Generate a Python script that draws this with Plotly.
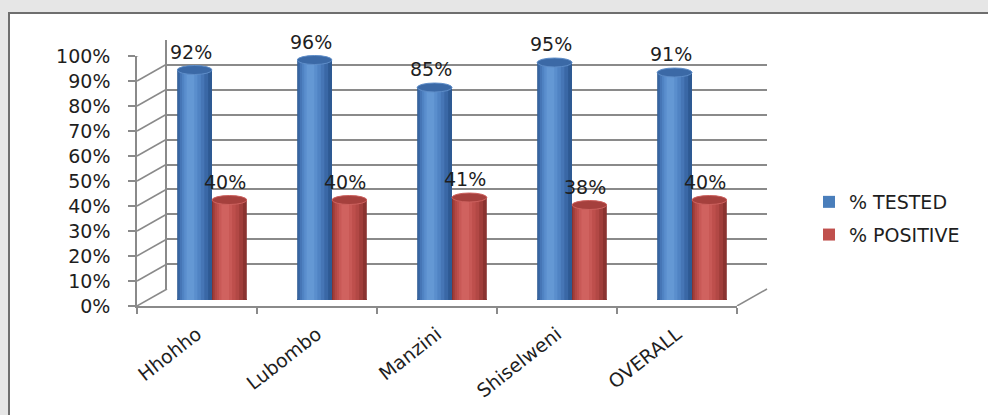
import plotly.graph_objects as go

# ---- data ----
categories = ["Hhohho", "Lubombo", "Manzini", "Shiselweni", "OVERALL"]
tested = [0.92, 0.96, 0.85, 0.95, 0.91]
positive = [0.40, 0.40, 0.41, 0.38, 0.40]
series_names = ["% TESTED", "% POSITIVE"]
y_ticks = [i / 10 for i in range(11)]

# ---- geometry (pixels) ----
W, H = 988, 415
FX0, FX1, FYB, FYT = 137, 737, 306, 56   # front plane
DX, DY = 30, 17                           # depth offset
MX, MY = 15, 6                            # bar plane offset
BW = 0.29                                 # bar width (category units)

def px_x(p):
    return p / W

def px_y(p):
    return 1 - p / H

FONT = "DejaVu Sans"
TXT = "#1e1e1e"
GRID = "#8a8a8a"

palettes = [
    dict(shades=["#2E5A93", "#3A68A6", "#4676B6", "#5083C3", "#5A8ECD", "#6498D4"],
         cap="#3B69A6", capline="#5E8DC8", legend="#4A7EBB"),
    dict(shades=["#8A3330", "#A03E3B", "#B24845", "#BE4F4C", "#C85956", "#D0625F"],
         cap="#A5403D", capline="#CC615E", legend="#C0504D"),
]

fig = go.Figure()

# invisible traces to carry the front category axis and the back wall axes
fig.add_trace(go.Scatter(x=categories, y=tested, mode="markers", marker=dict(opacity=0),
                         hoverinfo="skip", showlegend=False, xaxis="x", yaxis="y"))
fig.add_trace(go.Scatter(x=[0.5], y=[0.5], mode="markers", marker=dict(opacity=0),
                         hoverinfo="skip", showlegend=False, xaxis="x2", yaxis="y2"))

shapes = []
annotations = []

layers = [(1.0, 0.0), (0.86, -0.04), (0.70, -0.07), (0.54, -0.09), (0.38, -0.11), (0.22, -0.12)]

for s, (name, vals) in enumerate(zip(series_names, [tested, positive])):
    pal = palettes[s]
    sign = -1 if s == 0 else 1
    centers = [i + sign * BW / 2 for i in range(len(categories))]
    # legend-only entry
    fig.add_trace(go.Bar(x=[None], y=[None], name=name, legendgroup=name,
                         marker=dict(color=pal["legend"], line=dict(width=0)),
                         xaxis="x3", yaxis="y3", showlegend=True))
    for (frac, off), col in zip(layers, pal["shades"]):
        fig.add_trace(go.Bar(
            x=[c + off * BW for c in centers], y=vals, width=BW * frac,
            marker=dict(color=col, line=dict(width=0)),
            name=name, legendgroup=name, showlegend=False,
            xaxis="x3", yaxis="y3", hoverinfo="skip",
        ))
    for c, v in zip(centers, vals):
        shapes.append(dict(type="circle", xref="x3", yref="y3", ysizemode="pixel", yanchor=0,
                           x0=c - BW / 2, x1=c + BW / 2, y0=-4.5, y1=4.5,
                           fillcolor=pal["shades"][0], line=dict(width=0), layer="below"))
        shapes.append(dict(type="circle", xref="x3", yref="y3", ysizemode="pixel", yanchor=v,
                           x0=c - BW / 2, x1=c + BW / 2, y0=-4.5, y1=4.5,
                           fillcolor=pal["cap"], line=dict(width=1, color=pal["capline"]), layer="above"))
        annotations.append(dict(x=c, y=v, xref="x3", yref="y3", text=f"{round(v * 100)}%",
                                showarrow=False, yshift=18, xshift=-4,
                                font=dict(family=FONT, size=19, color=TXT)))

# left wall connectors
for v in y_ticks:
    shapes.append(dict(type="line", xref="paper", yref="y", xsizemode="pixel", ysizemode="pixel",
                       xanchor=px_x(FX0), yanchor=v, x0=0, x1=DX, y0=0, y1=DY,
                       line=dict(color=GRID, width=1.5), layer="below"))
# right floor edge
shapes.append(dict(type="line", xref="paper", yref="y", xsizemode="pixel", ysizemode="pixel",
                   xanchor=px_x(FX1), yanchor=0, x0=0, x1=DX, y0=0, y1=DY,
                   line=dict(color=GRID, width=1.5), layer="below"))
# white chart box
shapes.insert(0, dict(type="rect", xref="paper", yref="paper", x0=px_x(9), x1=1.05, y0=-0.1, y1=px_y(13),
                      fillcolor="white", line=dict(color="#6e6e6e", width=2), layer="below"))

noauto = dict(automargin=False, fixedrange=True)

fig.update_layout(
    width=W, height=H, autosize=False,
    margin=dict(l=0, r=0, t=0, b=0, pad=0, autoexpand=False),
    paper_bgcolor="#e6e6e6", plot_bgcolor="rgba(0,0,0,0)",
    barmode="overlay", showlegend=True,
    font=dict(family=FONT, color=TXT),
    xaxis=dict(domain=[px_x(FX0), px_x(FX1)], anchor="y", type="category",
               categoryorder="array", categoryarray=categories, range=[-0.5, len(categories) - 0.5],
               tickson="boundaries", ticks="outside", ticklen=6, tickcolor=GRID, tickwidth=1.5,
               showline=True, linecolor=GRID, linewidth=1.5, showgrid=False, zeroline=False,
               tickangle=-38, tickfont=dict(family=FONT, size=19, color=TXT), ticklabelstandoff=8,
               **noauto),
    yaxis=dict(domain=[px_y(FYB), px_y(FYT)], anchor="x", range=[0, 1], tickvals=y_ticks,
               tickformat=".0%", ticks="outside", ticklen=7, tickcolor=GRID, tickwidth=1.5,
               showline=True, linecolor=GRID, linewidth=1.5, showgrid=False, zeroline=False,
               tickfont=dict(family=FONT, size=19, color=TXT), ticklabelstandoff=14, **noauto),
    xaxis2=dict(domain=[px_x(FX0 + DX), px_x(FX1 + DX)], anchor="y2", range=[0, 1], visible=False,
                **noauto),
    yaxis2=dict(domain=[px_y(FYB - DY), px_y(FYT - DY + 0.5)], anchor="x2", range=[0, 1.002],
                tickvals=y_ticks,
                showgrid=True, gridcolor=GRID, gridwidth=1.5, showticklabels=False, ticks="",
                showline=True, linecolor=GRID, linewidth=1.5, zeroline=False, **noauto),
    xaxis3=dict(domain=[px_x(FX0 + MX), px_x(FX1 + MX)], anchor="y3",
                range=[-0.5, len(categories) - 0.5], visible=False, **noauto),
    yaxis3=dict(domain=[px_y(FYB - MY), px_y(FYT - MY)], anchor="x3", range=[0, 1], visible=False,
                **noauto),
    legend=dict(x=px_x(809), y=px_y(183), xanchor="left", yanchor="top",
                font=dict(family=FONT, size=19, color=TXT), bgcolor="rgba(0,0,0,0)",
                tracegroupgap=5, itemclick=False, itemdoubleclick=False),
    shapes=shapes, annotations=annotations,
)

fig.write_html("out.html")
